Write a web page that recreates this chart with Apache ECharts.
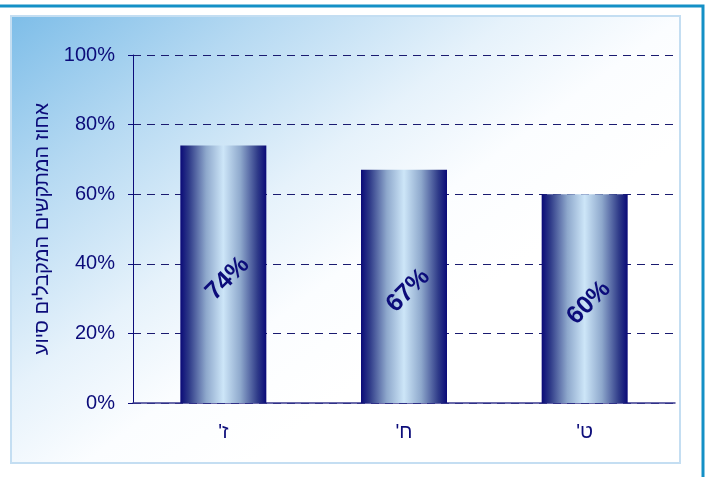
<!DOCTYPE html>
<html><head><meta charset="utf-8">
<script src="https://cdn.jsdelivr.net/npm/echarts@6/dist/echarts.min.js"></script>
<style>html,body{margin:0;padding:0;background:#fff}#c{width:706px;height:477px}</style>
</head><body><div id="c"></div>
<script>
const categories = ["ז'", "ח'", "ט'"];
const values = [74, 67, 60];
const yTicks = [0, 20, 40, 60, 80, 100];
const yAxisTitle = "אחוז המתקשים המקבלים סיוע";

const chart = echarts.init(document.getElementById('c'), null, {renderer: 'canvas'});
const navy = '#0c0c7a';
const font = 'Liberation Sans, Arial';
const barGrad = new echarts.graphic.LinearGradient(0, 0, 1, 0, [
  {offset: 0, color: '#0a0a78'},
  {offset: 0.1, color: '#2e3a88'},
  {offset: 0.3, color: '#8ea8cc'},
  {offset: 0.5, color: '#cde6f8'},
  {offset: 0.7, color: '#8ea8cc'},
  {offset: 0.9, color: '#2e3a88'},
  {offset: 1, color: '#0a0a78'}
]);
chart.setOption({
  animation: false,
  graphic: [
    {type: 'rect', z: -10, silent: true, shape: {x: 11, y: 16, width: 669, height: 447},
     style: {fill: new echarts.graphic.LinearGradient(0, 0, 0.45, 0.9, [
       {offset: 0, color: '#7dbde8'},
       {offset: 0.3, color: '#b5d9f2'},
       {offset: 0.6, color: '#e6f2fb'},
       {offset: 0.8, color: '#fbfdff'},
       {offset: 1, color: '#ffffff'}
     ]), stroke: '#c4def2', lineWidth: 2}},
    {type: 'polyline', z: 10, silent: true, shape: {points: [[0, 6], [703, 6], [703, 477]]},
     style: {stroke: '#1490c6', lineWidth: 3, fill: null}}
  ],
  grid: {left: 133, right: 31, top: 55, bottom: 74},
  xAxis: {
    type: 'category', data: categories,
    axisLine: {lineStyle: {color: '#3a3a90', width: 1.5}},
    axisTick: {show: false},
    axisLabel: {color: navy, fontSize: 20, fontFamily: font, margin: 19,
      formatter: v => '\u200F' + v + '\u200F'}
  },
  yAxis: {
    type: 'value', min: 0, max: 100, interval: 20,
    name: yAxisTitle, nameLocation: 'middle', nameGap: 80, nameRotate: 90,
    nameTextStyle: {color: navy, fontSize: 20, fontFamily: font},
    axisLine: {show: true, lineStyle: {color: navy, width: 1}},
    axisTick: {show: true, inside: false, length: 5, lineStyle: {color: navy}},
    axisLabel: {color: navy, fontSize: 20, fontFamily: font, margin: 18,
      formatter: v => yTicks.includes(v) ? v + '%' : ''},
    splitLine: {show: true, lineStyle: {color: '#1a1a70', type: [8, 6], width: 1}}
  },
  series: [{
    type: 'bar', data: values, barWidth: 86,
    itemStyle: {color: barGrad},
    label: {show: true, position: 'inside', rotate: 45, offset: [0, 6], formatter: p => p.value + '%',
      color: navy, fontSize: 25, fontWeight: 'bold', fontFamily: font}
  }]
});
</script></body></html>
